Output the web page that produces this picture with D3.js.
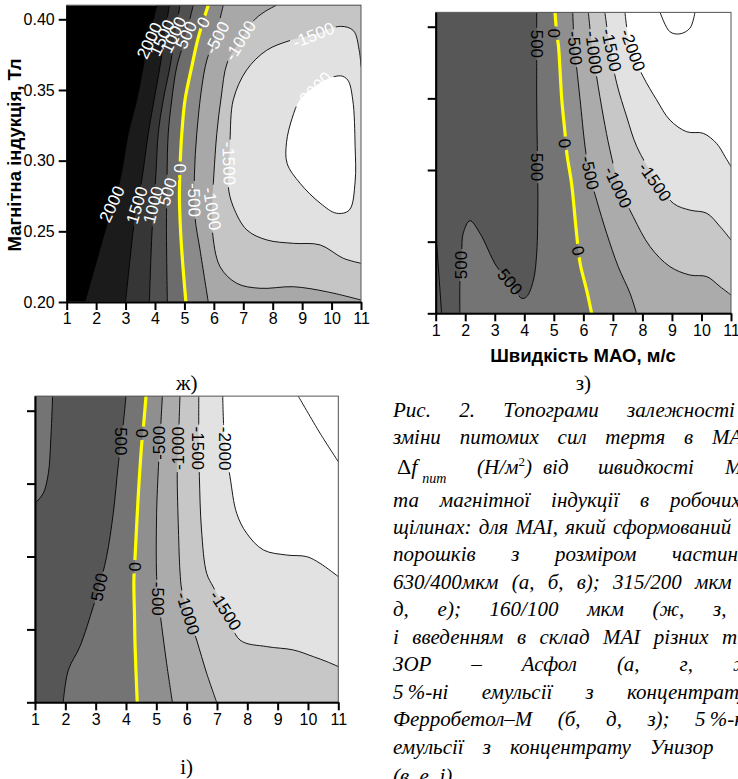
<!DOCTYPE html>
<html>
<head>
<meta charset="utf-8">
<script src="https://cdnjs.cloudflare.com/ajax/libs/d3/7.8.5/d3.min.js"></script>
<style>
  html, body { margin: 0; padding: 0; background: #fff; overflow: hidden; }
  svg { display: block; }
  .axis text { font-family: "Liberation Sans", Arial, sans-serif; font-size: 16px; fill: #000; }
  .axis path, .axis line { stroke: #000; stroke-width: 2; }
  .lbl { font-family: "Liberation Sans", Arial, sans-serif; font-size: 17px; }
  .title { font-family: "Liberation Sans", Arial, sans-serif; font-size: 18.5px; font-weight: bold; }
  .caption { font-family: "Liberation Serif", "Times New Roman", serif; font-style: italic; font-size: 21px; }
  .panelTag { font-family: "Liberation Serif", "Times New Roman", serif; font-size: 21px; }
</style>
</head>
<body>
<svg id="fig" width="738" height="779"></svg>
<script>
var speedTicks = [1, 2, 3, 4, 5, 6, 7, 8, 9, 10, 11]
var inductionTicks = [0.20, 0.25, 0.30, 0.35, 0.40]

// contour levels (H/m2) and the grey of each band, lowest band first
var levelsZh = [-2000, -1500, -1000, -500, 0, 500, 1000, 1500, 2000]
var shadesZh = ["#ffffff", "#e1e1e1", "#c5c5c5", "#a8a8a8", "#8a8a8a", "#6c6c6c", "#505050", "#363636", "#1b1b1b", "#000000"]
var levelsZ = [-2000, -1500, -1000, -500, 0, 500, 1000]
var shadesZ = ["#ffffff", "#e2e2e2", "#c7c7c7", "#ababab", "#8f8f8f", "#747474", "#575757", "#575757"]
var levelsI = [-2000, -1500, -1000, -500, 0, 500]
var shadesI = ["#ffffff", "#e2e2e2", "#c7c7c7", "#ababab", "#8f8f8f", "#747474", "#565656"]

// contour lines: [speed m/s, induction T]
// side = where the lower-valued region lies
var contoursZh = [
  { level: 2000, side: "right", pts: [[4.06,0.41],[3.7,0.377],[3.38,0.343],[3.09,0.319],[2.81,0.2863],[2.3,0.25],[1.62,0.20]] },
  { level: 1500, side: "right", pts: [[4.49,0.41],[4.3,0.385],[4.17,0.3665],[3.97,0.343],[3.77,0.319],[3.55,0.2863],[3.33,0.262],[3.15,0.23],[3.0,0.20]] },
  { level: 1000, side: "right", pts: [[4.85,0.41],[4.65,0.385],[4.51,0.3665],[4.28,0.343],[4.11,0.319],[4.03,0.29],[3.9,0.25],[3.81,0.20]] },
  { level: 500, side: "right", pts: [[5.30,0.41],[5.0,0.385],[4.74,0.3665],[4.57,0.343],[4.45,0.319],[4.41,0.29],[4.39,0.25],[4.42,0.20]] },
  { level: 0, side: "right", pts: [[5.81,0.41],[5.47,0.387],[5.25,0.3665],[5.02,0.343],[4.91,0.319],[4.86,0.30],[4.83,0.275],[4.87,0.25],[4.95,0.225],[5.05,0.20]] },
  { level: -500, side: "right", pts: [[6.32,0.41],[6.05,0.388],[5.76,0.371],[5.59,0.352],[5.42,0.319],[5.34,0.29],[5.36,0.26],[5.53,0.237],[5.81,0.20]] },
  { level: -1000, side: "topRight", pts: [[8.13,0.41],[7.7,0.405],[7.35,0.399],[6.89,0.385],[6.45,0.369],[6.25,0.345],[6.1,0.319],[6.0,0.29],[5.94,0.266],[5.95,0.25],[6.21,0.225],[6.78,0.2132],[7.57,0.2097],[8.70,0.2108],[9.83,0.2073],[11,0.2014]] },
  { level: -1500, side: "edge", pts: [[11,0.3666],[10.94,0.378],[10.74,0.392],[10.3,0.395],[9.38,0.389],[8.59,0.385],[7.79,0.378],[7.11,0.364],[6.66,0.343],[6.55,0.315],[6.52,0.30],[6.49,0.2816],[6.66,0.2674],[7.12,0.251],[7.80,0.2439],[8.70,0.2415],[9.61,0.2404],[10.40,0.2309],[11,0.2274]] },
  { level: -2000, side: "loop", pts: [[10.3,0.36],[9.61,0.355],[8.93,0.343],[8.66,0.33],[8.47,0.313],[8.49,0.298],[8.93,0.284],[9.61,0.27],[10.17,0.2628],[10.6,0.265],[10.8,0.285],[10.8,0.31],[10.72,0.343],[10.55,0.357]] }
]
var contoursZ = [
  { level: 500, side: "right", pts: [[4.42,0.41],[4.42,0.372],[4.42,0.349],[4.45,0.30],[4.46,0.277],[4.42,0.2419],[4.31,0.2232],[4.08,0.2116],[3.91,0.2105],[3.52,0.222],[3.07,0.2325],[2.50,0.2558],[2.16,0.2646],[1.93,0.2558],[1.88,0.2419],[1.82,0.2209],[1.82,0.20]] },
  { level: 1000, side: "none", pts: [[1.0,0.258],[1.08,0.235],[1.2,0.20]] },
  { level: 0, side: "right", pts: [[5.04,0.41],[5.10,0.3953],[5.16,0.386],[5.27,0.349],[5.38,0.3256],[5.44,0.3116],[5.60,0.2907],[5.77,0.2558],[5.89,0.2349],[6.11,0.2163],[6.28,0.20]] },
  { level: -500, side: "right", pts: [[5.64,0.41],[5.70,0.385],[5.77,0.372],[5.89,0.349],[6.06,0.316],[6.2,0.298],[6.45,0.279],[6.79,0.2558],[7.18,0.2326],[7.58,0.214],[7.80,0.20]] },
  { level: -1000, side: "topRight", pts: [[6.17,0.41],[6.3,0.385],[6.45,0.365],[6.68,0.337],[6.90,0.314],[7.23,0.288],[7.69,0.2674],[8.26,0.2465],[8.93,0.2326],[9.61,0.2267],[10.18,0.2256],[10.63,0.2186],[11,0.2128]] },
  { level: -1500, side: "topRight", pts: [[6.73,0.41],[6.9,0.385],[7.13,0.3605],[7.47,0.337],[7.81,0.3163],[8.4,0.295],[9.05,0.2767],[9.61,0.272],[10.18,0.2698],[10.63,0.2605],[11,0.2512]] },
  { level: -2000, side: "topRight", pts: [[7.41,0.41],[7.6,0.385],[8.03,0.365],[8.48,0.349],[8.93,0.3349],[9.50,0.3267],[10.06,0.3256],[10.51,0.3186],[10.8,0.3093],[11,0.3023]] },
  { level: -2500, side: "none", pts: [[8.60,0.41],[8.93,0.3965],[9.27,0.395],[9.61,0.399],[9.78,0.41]] }
]
var contoursI = [
  { level: 500, side: "topLeft", pts: [[1.58,0.41],[1.52,0.38],[1.44,0.357],[1.27,0.3433],[1.0,0.3365]] },
  { level: 500, side: "right", pts: [[4.0,0.41],[3.91,0.391],[3.75,0.3639],[3.58,0.3296],[3.36,0.2999],[3.1,0.278],[2.92,0.2656],[2.48,0.2382],[2.10,0.2222],[1.93,0.20]] },
  { level: 0, side: "right", pts: [[4.66,0.41],[4.59,0.3925],[4.52,0.3776],[4.40,0.34],[4.30,0.2999],[4.26,0.2839],[4.28,0.26],[4.30,0.2382],[4.37,0.20]] },
  { level: -500, side: "right", pts: [[5.20,0.41],[5.12,0.38],[5.07,0.3616],[5.01,0.3296],[5.01,0.2862],[5.07,0.27],[5.18,0.2519],[5.34,0.2267],[5.53,0.20]] },
  { level: -1000, side: "right", pts: [[5.78,0.41],[5.73,0.38],[5.69,0.357],[5.73,0.3182],[5.78,0.29],[5.84,0.277],[6.05,0.261],[6.33,0.2427],[6.66,0.2199],[6.99,0.20]] },
  { level: -1500, side: "topRight", pts: [[6.40,0.41],[6.40,0.38],[6.42,0.3547],[6.49,0.3182],[6.66,0.2885],[6.88,0.279],[7.29,0.263],[7.76,0.2427],[8.64,0.2382],[9.52,0.2359],[10.18,0.2313],[10.62,0.2279],[11,0.2245]] },
  { level: -2000, side: "topRight", pts: [[7.19,0.41],[7.25,0.38],[7.43,0.3547],[7.65,0.3296],[7.98,0.3159],[8.53,0.3045],[9.30,0.301],[9.96,0.2999],[10.4,0.2953],[11,0.2862]] },
  { level: -2500, side: "none", pts: [[9.68,0.41],[10.4,0.3845],[11,0.365]] }
]

// contour labels: [text, speed, induction, angle]
var labelsZh = [
  ["2000",3.80,0.385,-65],["1500",4.23,0.387,-65],["1000",4.62,0.389,-65],["500",5.05,0.389,-65],
  ["0",5.63,0.398,-62],["-500",6.10,0.387,-63],["-1000",6.89,0.385,-58],["-1500",9.38,0.389,-22],["-2000",9.38,0.35,-45],
  ["2000",2.53,0.2693,-65],["1500",3.38,0.2686,-73],["1000",3.93,0.2686,-76],["500",4.42,0.278,-73],
  ["0",4.85,0.2946,90],["-500",5.34,0.2722,88],["-1000",5.95,0.266,81],["-1500",6.52,0.298,88]
]
var labelsZ = [
  ["500",4.42,0.388,90],["0",5.02,0.3955,90],["-500",5.72,0.385,85],["-1000",6.36,0.382,83],["-1500",6.96,0.3837,78],["-2000",7.68,0.3837,70],
  ["500",4.45,0.302,90],["0",5.38,0.3186,82],["-500",6.23,0.298,78],["-1000",7.18,0.288,65],["-1500",8.43,0.2918,55],
  ["0",5.83,0.2437,75],["500",1.85,0.2337,-90],["500",3.52,0.222,50]
]
var labelsI = [
  ["500",3.84,0.379,90],["0",4.52,0.3845,90],["-500",5.10,0.378,-90],["-1000",5.72,0.3742,-90],["-1500",6.38,0.3742,90],["-2000",7.26,0.374,90],
  ["500",3.11,0.279,-78],["0",4.30,0.293,90],["-500",5.06,0.271,90],["-1000",6.05,0.261,73],["-1500",7.29,0.263,57]
]

var captionLines = [
  "Рис. 2. Топограми залежності",
  "зміни питомих сил тертя в МАІ",
  null,
  "та магнітної індукції в робочих",
  "щілинах: для МАІ, який сформований",
  "порошків з розміром частинок",
  "630/400мкм (а, б, в); 315/200 мкм",
  "д, е); 160/100 мкм (ж, з,",
  "і введенням в склад МАІ різних типів",
  "ЗОР – Асфол (а, г, ж);",
  "5\u2009%-ні емульсії з концентрату",
  "Ферробетол–М (б, д, з); 5\u2009%-ні",
  "емульсії з концентрату Унизор",
  "(в, е, і)."
]
// x where the last word of each justified line starts
var captionLastX = [627, 712, null, 670, 613, 672, 695, 713, 722, 733, 627, 695, 650, null]
var captionBaseY = [417, 444, 474, 507, 534, 561, 589, 616, 644, 671, 699, 726, 754, 783]

var svg = d3.select("#fig")
var defs = svg.append("defs")

var drawPanel = function (p) {
  var x = d3.scaleLinear().domain([1, 11]).range([p.left, p.right])
  var top = p.bottom - (p.bottom - p.y40) * 1.05
  var y = d3.scaleLinear().domain([0.2, 0.41]).range([p.bottom, top])
  var shade = d3.scaleThreshold().domain(p.levels).range(p.shades)

  defs.append("clipPath").attr("id", "clip-" + p.id)
    .append("rect")
    .attr("x", p.left).attr("y", top)
    .attr("width", p.right - p.left).attr("height", p.bottom - top)

  var area = svg.append("g").attr("clip-path", "url(#clip-" + p.id + ")")
  area.append("rect")
    .attr("x", p.left).attr("y", top)
    .attr("width", p.right - p.left).attr("height", p.bottom - top)
    .attr("fill", shade(1e9))

  var line = d3.line().x(d => x(d[0])).y(d => y(d[1])).curve(d3.curveCatmullRom.alpha(0.5))
  var loop = d3.line().x(d => x(d[0])).y(d => y(d[1])).curve(d3.curveCatmullRomClosed.alpha(0.5))
  var ends = { right: [[11, 0.2], [11, 0.41]], topRight: [[11, 0.41]], edge: [], topLeft: [[1, 0.41]] }

  // filled bands, painted from high to low values
  p.contours.forEach(function (c) {
    if (c.side === "none") return
    var d = c.side === "loop"
      ? loop(c.pts)
      : line(c.pts) + ends[c.side].map(e => "L" + x(e[0]) + "," + y(e[1])).join("") + "Z"
    area.append("path").attr("d", d).attr("fill", shade(c.level - 1))
  })

  var mask = defs.append("mask").attr("id", "mask-" + p.id)
    .attr("maskUnits", "userSpaceOnUse")
    .attr("x", 0).attr("y", 0).attr("width", 738).attr("height", 779)
  mask.append("rect").attr("width", 738).attr("height", 779).attr("fill", "#fff")

  var lines = area.append("g").attr("mask", "url(#mask-" + p.id + ")")
  p.contours.forEach(function (c) {
    lines.append("path")
      .attr("d", c.side === "loop" ? loop(c.pts) : line(c.pts))
      .attr("fill", "none")
      .attr("stroke", c.level === 0 ? "#ffff00" : "#000")
      .attr("stroke-width", c.level === 0 ? 3.2 : 0.9)
  })

  var labs = area.append("g").attr("class", "lbl").attr("fill", p.labelColor)
  p.labels.forEach(function (l) {
    var tr = "translate(" + x(l[1]) + "," + y(l[2]) + ") rotate(" + l[3] + ")"
    var t = labs.append("text")
      .attr("transform", tr)
      .attr("text-anchor", "middle")
      .attr("dy", "0.36em")
      .text(l[0])
    var w = t.node().getComputedTextLength()
    mask.append("rect")
      .attr("transform", tr)
      .attr("x", -w / 2 - 2).attr("y", -7)
      .attr("width", w + 4).attr("height", 14)
      .attr("fill", "#000")
  })

  // frame
  svg.append("rect")
    .attr("x", p.left).attr("y", top)
    .attr("width", p.right - p.left).attr("height", p.bottom - top)
    .attr("fill", "none").attr("stroke", "#555").attr("stroke-width", 1)

  svg.append("g")
    .attr("class", "axis")
    .attr("transform", "translate(0," + p.bottom + ")")
    .call(d3.axisBottom(x).tickValues(speedTicks).tickFormat(d3.format("d"))
      .tickSize(8).tickSizeOuter(0).tickPadding(3))

  svg.append("g")
    .attr("class", "axis")
    .attr("transform", "translate(" + p.left + ",0)")
    .call(d3.axisLeft(y).tickValues(inductionTicks)
      .tickFormat(p.yLabels ? d3.format(".2f") : () => "")
      .tickSize(8).tickSizeOuter(0).tickPadding(4))

  svg.append("text").attr("class", "panelTag")
    .attr("x", (p.left + p.right) / 2 + p.tagShift).attr("y", p.tagY)
    .attr("text-anchor", "middle")
    .text(p.tag)
}

drawPanel({ id: "zh", left: 66.7, right: 361, bottom: 302, y40: 19.3, levels: levelsZh, shades: shadesZh,
  contours: contoursZh, labels: labelsZh, labelColor: "#fff", yLabels: true, tag: "ж)", tagY: 390, tagShift: -27 })
drawPanel({ id: "z", left: 435.7, right: 731, bottom: 313.3, y40: 26.7, levels: levelsZ, shades: shadesZ,
  contours: contoursZ, labels: labelsZ, labelColor: "#000", yLabels: false, tag: "з)", tagY: 390, tagShift: 0 })
drawPanel({ id: "i", left: 35, right: 338.3, bottom: 702.3, y40: 410.7, levels: levelsI, shades: shadesI,
  contours: contoursI, labels: labelsI, labelColor: "#000", yLabels: false, tag: "і)", tagY: 774, tagShift: 0 })

// axis titles
svg.append("text").attr("class", "title")
  .attr("transform", "translate(21,155) rotate(-90)")
  .attr("text-anchor", "middle")
  .text("Магнітна індукція, Тл")

svg.append("text").attr("class", "title")
  .attr("x", 583).attr("y", 362)
  .attr("text-anchor", "middle")
  .text("Швидкість МАО, м/с")

// caption, justified by widening the word gaps of each line
var capX = 393
var cap = svg.append("g").attr("class", "caption")

captionLines.forEach(function (txt, i) {
  if (txt === null) return
  var t = cap.append("text").attr("x", capX).attr("y", captionBaseY[i]).text(txt)
  var target = captionLastX[i]
  if (target) {
    var idx = txt.lastIndexOf(" ") + 1
    var p0 = t.node().getStartPositionOfChar(idx).x
    var gaps = (txt.slice(0, idx).match(/ /g) || []).length
    t.style("word-spacing", Math.max(0, (target - p0) / gaps) + "px")
  }
})

// the formula line
var fy = captionBaseY[2]
var f = cap.append("text").attr("x", 397).attr("y", fy)
f.append("tspan").style("font-style", "normal").style("font-size", "22px").text("Δ")
f.append("tspan").style("font-size", "22px").text("f")
f.append("tspan").attr("dx", 5).attr("dy", 9).style("font-size", "14px").text("пит")
var g2 = cap.append("text").attr("x", 477).attr("y", fy)
g2.append("tspan").text("(Н/м")
g2.append("tspan").attr("dy", -8).style("font-size", "13px").style("font-style", "normal").text("2")
g2.append("tspan").attr("dy", 8).text(")")
cap.append("text").attr("x", 543).attr("y", fy).text("від")
cap.append("text").attr("x", 598).attr("y", fy).text("швидкості")
cap.append("text").attr("x", 725).attr("y", fy).text("МАО")
</script>
</body>
</html>
